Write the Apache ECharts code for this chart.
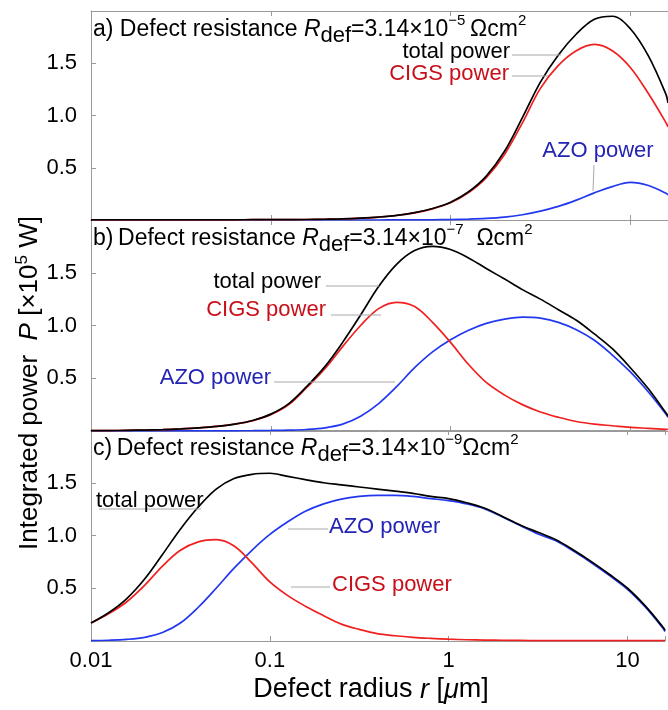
<!DOCTYPE html>
<html>
<head>
<meta charset="utf-8">
<script src="https://cdn.jsdelivr.net/npm/echarts@6/dist/echarts.min.js"></script>
<style>
  html, body { margin: 0; padding: 0; background: #fff; }
  #chart { width: 668px; height: 710px; }
</style>
</head>
<body>
<div id="chart"></div>
<script>
// defect radius in um (log spaced samples)
const radius = [0.01, 0.0126, 0.0158, 0.02, 0.0251, 0.0316, 0.0398, 0.0501, 0.0631, 0.0794,
  0.1, 0.126, 0.158, 0.2, 0.251, 0.316, 0.398, 0.501, 0.631, 0.794,
  1, 1.26, 1.58, 2, 2.51, 3.16, 3.98, 5.01, 6.31, 7.94, 10, 12.6, 15.8, 16.2];

// a) R_def = 3.14e-5
const totalA = [0.001, 0.001, 0.001, 0.001, 0.001, 0.001, 0.002, 0.002, 0.002, 0.003,
  0.003, 0.004, 0.005, 0.007, 0.01, 0.017, 0.028, 0.044, 0.07, 0.11,
  0.17, 0.27, 0.42, 0.66, 0.98, 1.32, 1.58, 1.78, 1.92, 1.95, 1.83, 1.57, 1.2, 1.12];
const cigsA = [0.001, 0.001, 0.001, 0.001, 0.001, 0.001, 0.002, 0.002, 0.002, 0.003,
  0.003, 0.004, 0.005, 0.007, 0.01, 0.017, 0.028, 0.043, 0.068, 0.107,
  0.165, 0.262, 0.405, 0.63, 0.93, 1.26, 1.48, 1.62, 1.68, 1.62, 1.46, 1.21, 0.93, 0.89];
const azoA = [0, 0, 0, 0, 0, 0, 0, 0, 0, 0,
  0, 0, 0, 0, 0, 0, 0, 0.001, 0.001, 0.002,
  0.004, 0.008, 0.015, 0.028, 0.05, 0.085, 0.13, 0.19, 0.26, 0.32, 0.36, 0.33, 0.255, 0.24];

// b) R_def = 3.14e-7
const totalB = [0.003, 0.004, 0.006, 0.009, 0.013, 0.02, 0.03, 0.044, 0.066, 0.1,
  0.16, 0.26, 0.42, 0.61, 0.84, 1.1, 1.37, 1.58, 1.71, 1.75,
  1.72, 1.64, 1.54, 1.44, 1.34, 1.25, 1.15, 1.05, 0.92, 0.78, 0.6, 0.4, 0.17, 0.14];
const cigsB = [0.003, 0.004, 0.006, 0.009, 0.013, 0.02, 0.03, 0.044, 0.065, 0.098,
  0.155, 0.25, 0.41, 0.59, 0.8, 1.0, 1.16, 1.22, 1.18, 1.03,
  0.84, 0.63, 0.46, 0.34, 0.25, 0.18, 0.13, 0.09, 0.065, 0.05, 0.035, 0.025, 0.015, 0.014];
const azoB = [0.001, 0.001, 0.001, 0.001, 0.001, 0.001, 0.001, 0.001, 0.002, 0.003,
  0.005, 0.008, 0.014, 0.03, 0.065, 0.14, 0.26, 0.42, 0.6, 0.75,
  0.865, 0.955, 1.02, 1.06, 1.08, 1.07, 1.03, 0.96, 0.86, 0.72, 0.56, 0.37, 0.16, 0.13];

// c) R_def = 3.14e-9
const totalC = [0.17, 0.27, 0.4, 0.59, 0.82, 1.06, 1.27, 1.44, 1.54, 1.58,
  1.59, 1.56, 1.53, 1.5, 1.48, 1.46, 1.44, 1.42, 1.4, 1.37,
  1.35, 1.31, 1.26, 1.18, 1.1, 1.03, 0.96, 0.86, 0.75, 0.63, 0.5, 0.33, 0.13, 0.1];
const cigsC = [0.17, 0.26, 0.37, 0.53, 0.71, 0.86, 0.94, 0.96, 0.9, 0.74,
  0.56, 0.43, 0.33, 0.24, 0.16, 0.11, 0.07, 0.05, 0.035, 0.025,
  0.017, 0.012, 0.009, 0.007, 0.005, 0.004, 0.004, 0.003, 0.003, 0.003, 0.003, 0.003, 0.003, 0.003];
const azoC = [0.004, 0.007, 0.015, 0.035, 0.08, 0.17, 0.32, 0.5, 0.69, 0.86,
  1.01, 1.13, 1.23, 1.3, 1.345, 1.37, 1.38, 1.38, 1.37, 1.35,
  1.33, 1.3, 1.255, 1.175, 1.095, 1.015, 0.95, 0.85, 0.74, 0.62, 0.49, 0.32, 0.12, 0.09];

const xTickLabels = ['0.01', '0.1', '1', '10'];
const yTickLabels = ['0.5', '1.0', '1.5'];
const panelExponents = ['\u22125', '\u22127', '\u22129'];

const FONT = '"Liberation Sans", Arial, sans-serif';
const BLACK = '#000000', RED = '#f02020', BLUE = '#2238f0';
const RED_TXT = '#c8101a', BLUE_TXT = '#2424b4';
const AXIS = '#9a9a9a';

const grids = [
  { left: 91, right: 0, top: 11, height: 209 },
  { left: 91, right: 0, top: 220, height: 211 },
  { left: 91, right: 0, top: 430, height: 211 }
];

function xLabel(v) {
  const e = Math.round(Math.log10(v));
  if (Math.abs(Math.log10(v) - e) > 1e-6) return '';
  return xTickLabels[e + 2] || '';
}
function yLabel(v) {
  const s = v.toFixed(1);
  return yTickLabels.indexOf(s) >= 0 ? s : '';
}

const xAxes = [], yAxes = [];
grids.forEach((g, i) => {
  ['bottom', 'top'].forEach(pos => {
    xAxes.push({
      type: 'log', logBase: 10, gridIndex: i, position: pos,
      min: 0.01, max: 16.2,
      axisLine: { show: true, lineStyle: { color: AXIS, width: 1 } },
      axisTick: { show: true, inside: true, length: 5, lineStyle: { color: AXIS } },
      minorTick: { show: false },
      splitLine: { show: false },
      axisLabel: {
        show: i === 2 && pos === 'bottom', formatter: xLabel,
        fontFamily: FONT, fontSize: 22, color: '#000', margin: 9
      }
    });
  });
  yAxes.push({
    type: 'value', gridIndex: i, min: 0, max: 2, interval: 0.5,
    axisLine: { show: true, lineStyle: { color: AXIS, width: 1 } },
    axisTick: { show: true, inside: true, length: 5, lineStyle: { color: AXIS } },
    splitLine: { show: false },
    axisLabel: { formatter: yLabel, fontFamily: FONT, fontSize: 22, color: '#000', margin: 14 }
  });
});

function line(name, vals, color, i) {
  return {
    name, type: 'line', xAxisIndex: i * 2, yAxisIndex: i,
    data: radius.map((r, k) => [r, vals[k]]),
    showSymbol: false, smooth: 0.35,
    lineStyle: { color, width: 1.7 },
    itemStyle: { color }
  };
}

const series = [
  line('AZO a', azoA, BLUE, 0), line('CIGS a', cigsA, RED, 0), line('total a', totalA, BLACK, 0),
  line('AZO b', azoB, BLUE, 1), line('CIGS b', cigsB, RED, 1), line('total b', totalB, BLACK, 1),
  line('AZO c', azoC, BLUE, 2), line('CIGS c', cigsC, RED, 2), line('total c', totalC, BLACK, 2)
];

const rich = {
  t: { fontFamily: FONT, fontSize: 23, color: '#000', lineHeight: 34, verticalAlign: 'middle' },
  it: { fontFamily: FONT, fontSize: 23, fontStyle: 'italic', color: '#000', lineHeight: 34, verticalAlign: 'middle' },
  sub: { fontFamily: FONT, fontSize: 22, color: '#000', lineHeight: 22, verticalAlign: 'bottom' },
  sup: { fontFamily: FONT, fontSize: 15, color: '#000', lineHeight: 15, verticalAlign: 'top' }
};

const titleTexts = [
  '{t|a) Defect resistance }{it|R}{sub|def}{t|=3.14\u00d710}{sup|' + panelExponents[0] + '}{t|\u2009\u03a9cm}{sup|2}',
  '{t|b)\u2009Defect resistance }{it|R}{sub|def}{t|=3.14\u00d710}{sup|' + panelExponents[1] + '}{t|  \u03a9cm}{sup|2}',
  '{t|c)\u2009Defect resistance }{it|R}{sub|def}{t|=3.14\u00d710}{sup|' + panelExponents[2] + '}{t|\u03a9cm}{sup|2}'
];
const titleY = [11, 220, 430];

function label(text, x, y, color, align) {
  return { type: 'text', x, y, z: 10,
    style: { text, fill: color, font: '22px ' + FONT, align: align || 'left', verticalAlign: 'middle' } };
}
function leader(x1, y1, x2, y2) {
  return { type: 'line', z: 9, shape: { x1, y1, x2, y2 }, style: { stroke: '#a8a8a8', lineWidth: 1 } };
}

const graphic = [];
titleTexts.forEach((txt, i) => {
  graphic.push({ type: 'text', x: 93, y: titleY[i] + 2, z: 10,
    style: { text: txt, rich, align: 'left', verticalAlign: 'top' } });
});

// panel a
graphic.push(label('total power', 510, 52, BLACK, 'right'), leader(512, 55, 561, 55));
graphic.push(label('CIGS power', 509, 74, RED_TXT, 'right'), leader(512, 76, 548, 76));
graphic.push(label('AZO power', 598, 151, BLUE_TXT, 'center'), leader(594, 165, 593, 191));
// panel b
graphic.push(label('total power', 321, 282, BLACK, 'right'), leader(326, 286, 379, 286));
graphic.push(label('CIGS power', 326, 310, RED_TXT, 'right'), leader(331, 315, 381, 315));
graphic.push(label('AZO power', 271, 378, BLUE_TXT, 'right'), leader(274, 382, 395, 382));
// panel c
graphic.push(label('total power', 96, 501, BLACK, 'left'), leader(99, 509, 201, 509));
graphic.push(label('AZO power', 329, 527, BLUE_TXT, 'left'), leader(288, 529, 328, 529));
graphic.push(label('CIGS power', 332, 585, RED_TXT, 'left'), leader(291, 587, 330, 587));

// axis names
graphic.push({ type: 'text', x: 371, y: 690, z: 10,
  style: { text: '{t|Defect radius }{it|r}{t| [}{it|\u03bc}{t|m]}', align: 'center', verticalAlign: 'middle',
    rich: { t: { fontFamily: FONT, fontSize: 27, color: '#000' }, it: { fontFamily: FONT, fontSize: 27, fontStyle: 'italic', color: '#000' } } } });
graphic.push({ type: 'text', x: 30, y: 383, z: 10, rotation: Math.PI / 2,
  style: { text: '{t|Integrated power  }{it|P}{t| [\u00d710}{sup|5}{t| W]}', align: 'center', verticalAlign: 'middle',
    rich: {
      t: { fontFamily: FONT, fontSize: 26, color: '#000', lineHeight: 32 },
      it: { fontFamily: FONT, fontSize: 26, fontStyle: 'italic', color: '#000', lineHeight: 32 },
      sup: { fontFamily: FONT, fontSize: 17, color: '#000', lineHeight: 17, verticalAlign: 'top' }
    } } });

const chart = echarts.init(document.getElementById('chart'), null, { renderer: 'canvas' });
chart.setOption({
  animation: false,
  backgroundColor: '#fff',
  grid: grids,
  xAxis: xAxes,
  yAxis: yAxes,
  series,
  graphic
});
</script>
</body>
</html>
